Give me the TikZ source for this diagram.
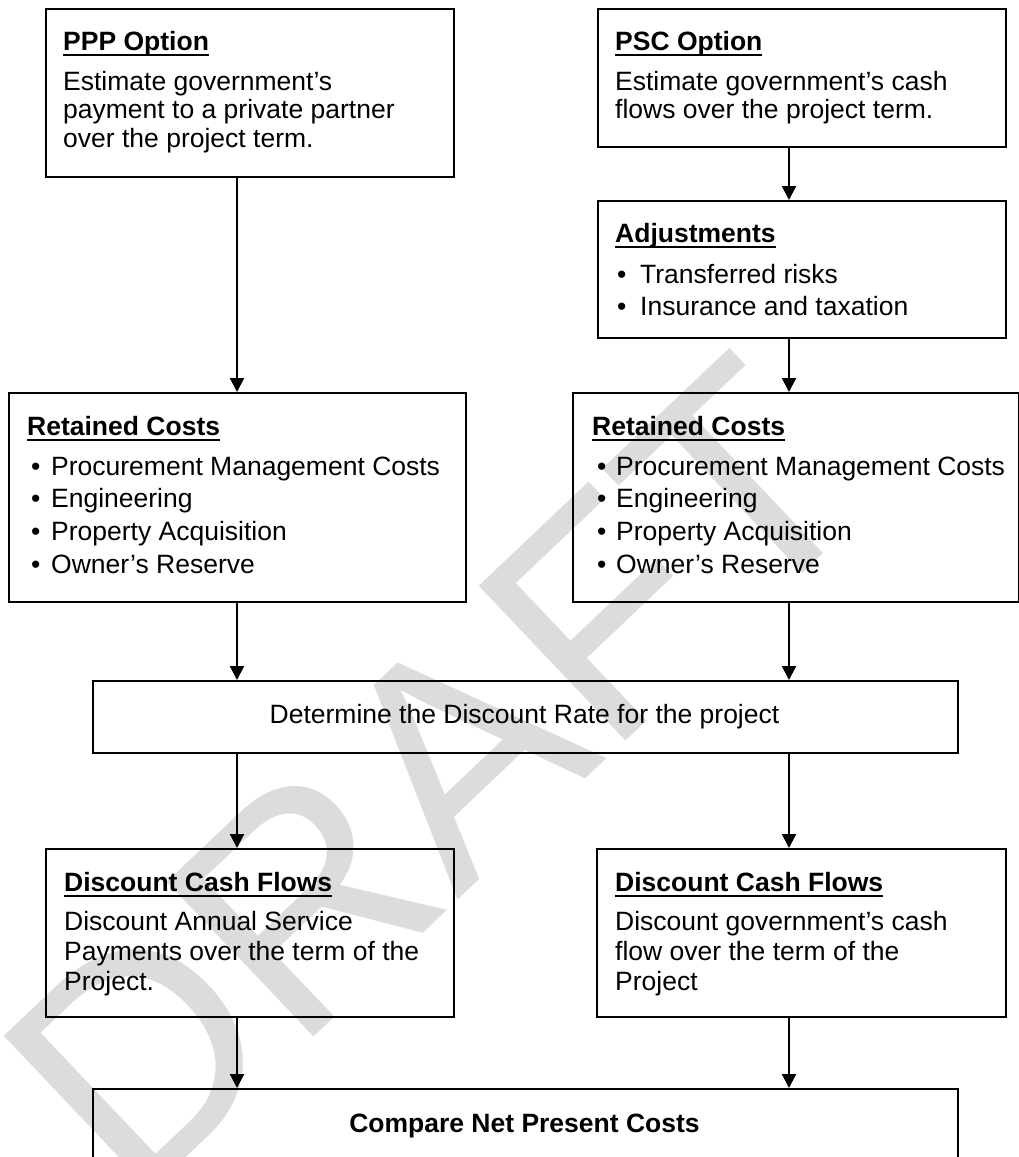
\documentclass[tikz,border=0pt]{standalone}
\usepackage{fontspec}
\setmainfont{Liberation Sans}
\usetikzlibrary{arrows.meta}
\definecolor{wmgray}{RGB}{220,220,220}
\newcommand\bodyfont{\fontsize{26.5pt}{30pt}\selectfont}
\newcommand\myul[1]{\setbox0\hbox{#1}\rlap{\rule[-6.2pt]{\wd0}{1.9pt}}\box0}
\newcommand\bul[2]{\makebox[#1][l]{•}#2}
\begin{document}
\begin{tikzpicture}[x=1pt,y=-1pt,
  box/.style={draw=black, line width=2pt, rectangle, inner sep=0pt, anchor=north west},
  arr/.style={line width=2pt, -{Triangle[width=14pt,length=14pt]}},
  tx/.style={anchor=base west, inner sep=0pt, font=\bodyfont},
  tc/.style={anchor=base, inner sep=0pt, font=\bodyfont},
  wm/.style={text=wmgray, inner sep=0pt, font=\fontsize{310pt}{310pt}\selectfont}]
\useasboundingbox (0,0) rectangle (1019,1157);
\fill[white] (0,0) rectangle (1019,1157);
% watermark
\node[wm, rotate=43.5] (wm) at (434,776) {DRAFT};
% boxes
\node[box, minimum width=408pt, minimum height=168pt] (ppp) at (45,8) {};
\node[box, minimum width=408pt, minimum height=138pt] (psc) at (597,8) {};
\node[box, minimum width=408pt, minimum height=137pt] (adj) at (597,200) {};
\node[box, minimum width=457pt, minimum height=209pt] (retL) at (8,392) {};
\node[box, minimum width=446pt, minimum height=209pt] (retR) at (572,392) {};
\node[box, minimum width=865pt, minimum height=72pt] (rate) at (92,680) {};
\node[box, minimum width=408pt, minimum height=168pt] (dcfL) at (45,848) {};
\node[box, minimum width=409pt, minimum height=168pt] (dcfR) at (596,848) {};
\node[box, minimum width=865pt, minimum height=110pt] (cmp) at (92,1088) {};
% texts
\node[tx] (ppp-t) at (63,50) {\bfseries\myul{PPP Option}};
\node[tx] (ppp-1) at (63,90) {Estimate government’s};
\node[tx] (ppp-2) at (63,118.5) {payment to a private partner};
\node[tx] (ppp-3) at (63,147) {over the project term.};
\node[tx] (psc-t) at (615,50) {\bfseries\myul{PSC Option}};
\node[tx] (psc-1) at (615,90) {Estimate government’s cash};
\node[tx] (psc-2) at (615,118.5) {flows over the project term.};
\node[tx] (adj-t) at (615,242) {\bfseries\myul{Adjustments}};
\node[tx] (adj-1) at (617,283) {\bul{23pt}{Transferred risks}};
\node[tx] (adj-2) at (617,315) {\bul{23pt}{Insurance and taxation}};
\node[tx] (retL-t) at (27,435) {\bfseries\myul{Retained Costs}};
\node[tx] (retL-1) at (31,475) {\bul{20pt}{Procurement Management Costs}};
\node[tx] (retL-2) at (31,507.5) {\bul{20pt}{Engineering}};
\node[tx] (retL-3) at (31,540) {\bul{20pt}{Property Acquisition}};
\node[tx] (retL-4) at (31,573) {\bul{20pt}{Owner’s Reserve}};
\node[tx] (retR-t) at (592,435) {\bfseries\myul{Retained Costs}};
\node[tx] (retR-1) at (597,475) {\bul{19pt}{Procurement Management Costs}};
\node[tx] (retR-2) at (597,507.5) {\bul{19pt}{Engineering}};
\node[tx] (retR-3) at (597,540) {\bul{19pt}{Property Acquisition}};
\node[tx] (retR-4) at (597,573) {\bul{19pt}{Owner’s Reserve}};
\node[tc] (rate-t) at (524.5,723) {Determine the Discount Rate for the project};
\node[tx] (dcfL-t) at (64,891) {\bfseries\myul{Discount Cash Flows}};
\node[tx] (dcfL-1) at (64,930) {Discount Annual Service};
\node[tx] (dcfL-2) at (64,960.5) {Payments over the term of the};
\node[tx] (dcfL-3) at (64,990) {Project.};
\node[tx] (dcfR-t) at (615,891) {\bfseries\myul{Discount Cash Flows}};
\node[tx] (dcfR-1) at (615,930) {Discount government’s cash};
\node[tx] (dcfR-2) at (615,960.5) {flow over the term of the};
\node[tx] (dcfR-3) at (615,990) {Project};
\node[tc] (cmp-t) at (524.5,1132) {\bfseries Compare Net Present Costs};
% connectors
\coordinate (xl) at (237,0);
\coordinate (xr) at (789,0);
\draw[arr] (ppp.south -| xl) -- (retL.north -| xl);
\draw[arr] (psc.south -| xr) -- (adj.north -| xr);
\draw[arr] (adj.south -| xr) -- (retR.north -| xr);
\draw[arr] (retL.south -| xl) -- (rate.north -| xl);
\draw[arr] (retR.south -| xr) -- (rate.north -| xr);
\draw[arr] (rate.south -| xl) -- (dcfL.north -| xl);
\draw[arr] (rate.south -| xr) -- (dcfR.north -| xr);
\draw[arr] (dcfL.south -| xl) -- (cmp.north -| xl);
\draw[arr] (dcfR.south -| xr) -- (cmp.north -| xr);
\end{tikzpicture}
\end{document}
